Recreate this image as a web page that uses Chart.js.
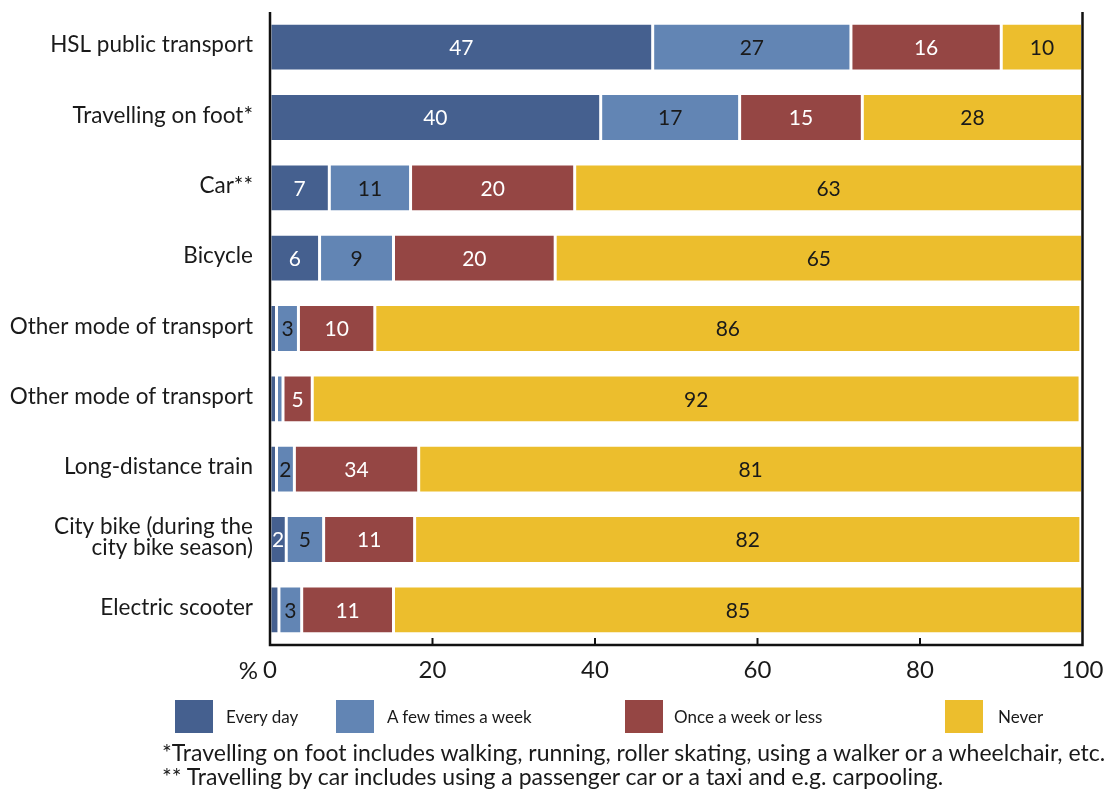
<!DOCTYPE html>
<html>
<head>
<meta charset="utf-8">
<script src="https://cdn.jsdelivr.net/npm/chart.js@4.4.1/dist/chart.umd.min.js"></script>
<style>
  body { margin: 0; background: #fff; font-family: Lato, 'Noto Sans', sans-serif; color: #1a1a1a; }
  #wrap { position: absolute; left: 0; top: 0; width: 1105px; height: 791px; }
  .key { position: absolute; top: 700px; width: 38px; height: 33px; }
  .keytext { position: absolute; top: 706px; font-size: 17px; line-height: 22px; white-space: nowrap; }
  #notes { position: absolute; left: 162px; top: 740px; font-size: 23px; line-height: 24px; white-space: nowrap; }
</style>
</head>
<body>
<div id="wrap"><canvas id="usageChart"></canvas></div>

<div class="key" style="left:175px;background:#45608f"></div>
<div class="keytext" style="left:226px">Every day</div>
<div class="key" style="left:336px;background:#6285b4"></div>
<div class="keytext" style="left:387px">A few times a week</div>
<div class="key" style="left:625px;background:#954644"></div>
<div class="keytext" style="left:674px">Once a week or less</div>
<div class="key" style="left:945px;background:#ecbe2d"></div>
<div class="keytext" style="left:998px">Never</div>

<div id="notes">*Travelling on foot includes walking, running, roller skating, using a walker or a wheelchair, etc.<br>** Travelling by car includes using a passenger car or a taxi and e.g. carpooling.</div>

<script>
// Categories (top to bottom)
const modes = [
  'HSL public transport',
  'Travelling on foot*',
  'Car**',
  'Bicycle',
  'Other mode of transport',
  'Other mode of transport',
  'Long-distance train',
  ['City bike (during the', 'city bike season)'],
  'Electric scooter'
];

// Bar widths (%)
const everyDay       = [47.1, 40.7, 7.3, 6.1, 0.8, 0.8, 0.8, 2.0, 1.1];
const fewTimesWeek   = [24.4, 17.1, 10.0, 9.1, 2.7, 0.8, 2.2, 4.6, 2.8];
const onceWeekOrLess = [18.5, 15.1, 20.2, 19.9, 9.4, 3.6, 15.3, 11.2, 11.3];
const never          = [10.0, 27.1, 62.5, 64.9, 86.9, 94.5, 81.7, 82.0, 84.8];

// Numbers printed inside the bars (null = no label)
const everyDayText       = ['47', '40', '7', '6', null, null, null, '2', null];
const fewTimesWeekText   = ['27', '17', '11', '9', '3', null, '2', '5', '3'];
const onceWeekOrLessText = ['16', '15', '20', '20', '10', '5', '34', '11', '11'];
const neverText          = ['10', '28', '63', '65', '86', '92', '81', '82', '85'];

const xTicks = [0, 20, 40, 60, 80, 100];

const FONT = 'Lato, "Noto Sans", sans-serif';
const INK = '#1a1a1a';

// draws the numbers in the middle of each segment
const segmentLabels = {
  id: 'segmentLabels',
  afterDatasetsDraw(chart) {
    const ctx = chart.ctx;
    ctx.save();
    ctx.font = '21px ' + FONT;
    ctx.textAlign = 'center';
    ctx.textBaseline = 'middle';
    chart.data.datasets.forEach((ds, di) => {
      chart.getDatasetMeta(di).data.forEach((bar, i) => {
        const txt = ds.valueText[i];
        if (txt == null) return;
        ctx.fillStyle = ds.valueColor;
        ctx.fillText(txt, (bar.x + bar.base) / 2, bar.y + 1);
      });
    });
    ctx.restore();
  }
};

// axis frame (left, bottom, right) with inward ticks and the "%" sign
const frame = {
  id: 'frame',
  afterDraw(chart) {
    const { ctx, chartArea: a, scales: { x } } = chart;
    ctx.save();
    ctx.strokeStyle = '#111';
    ctx.lineWidth = 2.5;
    ctx.beginPath();
    ctx.moveTo(a.left, a.top);
    ctx.lineTo(a.left, a.bottom);
    ctx.lineTo(a.right, a.bottom);
    ctx.lineTo(a.right, a.top);
    ctx.stroke();
    ctx.lineWidth = 2;
    xTicks.slice(1, -1).forEach(v => {
      const px = x.getPixelForValue(v);
      ctx.beginPath();
      ctx.moveTo(px, a.bottom);
      ctx.lineTo(px, a.bottom - 7);
      ctx.stroke();
    });
    ctx.fillStyle = INK;
    ctx.font = '24px ' + FONT;
    ctx.textAlign = 'right';
    ctx.textBaseline = 'middle';
    ctx.fillText('%', x.getPixelForValue(0) - 12, 671);
    ctx.restore();
  }
};

const ctx = document.getElementById('usageChart').getContext('2d');

new Chart(ctx, {
  type: 'bar',
  data: {
    labels: modes,
    datasets: [
      { label: 'Every day', data: everyDay, backgroundColor: '#45608f', valueText: everyDayText, valueColor: '#fff' },
      { label: 'A few times a week', data: fewTimesWeek, backgroundColor: '#6285b4', valueText: fewTimesWeekText, valueColor: INK },
      { label: 'Once a week or less', data: onceWeekOrLess, backgroundColor: '#954644', valueText: onceWeekOrLessText, valueColor: '#fff' },
      { label: 'Never', data: never, backgroundColor: '#ecbe2d', valueText: neverText, valueColor: INK }
    ].map(ds => Object.assign(ds, {
      borderColor: '#fff',
      borderWidth: 1.5,
      borderSkipped: false,
      barPercentage: 0.68,
      categoryPercentage: 1
    }))
  },
  options: {
    indexAxis: 'y',
    responsive: true,
    maintainAspectRatio: false,
    animation: false,
    layout: { padding: { top: 12, right: 22.5, left: 0, bottom: 0 } },
    scales: {
      x: {
        stacked: true,
        min: 0,
        max: 100,
        afterBuildTicks: scale => { scale.ticks = xTicks.map(v => ({ value: v })); },
        afterFit: scale => {
          scale.height = 146;
          scale.paddingLeft = 0;
          scale.paddingRight = 0;
        },
        grid: { display: false, drawTicks: false },
        border: { display: false },
        ticks: { color: INK, font: { family: FONT, size: 24 }, padding: 11, maxRotation: 0 }
      },
      y: {
        stacked: true,
        afterFit: scale => {
          scale.width = 270;
          scale.paddingTop = 0;
          scale.paddingBottom = 0;
        },
        grid: { display: false, drawTicks: false },
        border: { display: false },
        ticks: { color: INK, font: { family: FONT, size: 22.5, lineHeight: 0.95 }, padding: 17, labelOffset: -2 }
      }
    },
    plugins: {
      legend: { display: false },
      tooltip: { enabled: false }
    }
  },
  plugins: [segmentLabels, frame]
});
</script>
</body>
</html>
